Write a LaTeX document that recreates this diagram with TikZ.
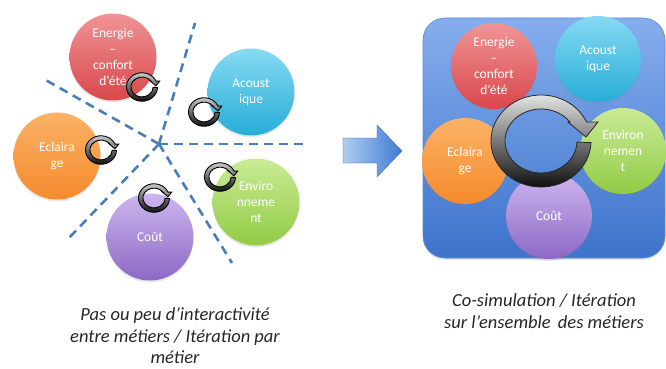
\documentclass[tikz,border=0pt]{standalone}
\usepackage{fontspec}
\setmainfont{Carlito}
\usetikzlibrary{shadows}
\definecolor{redT}{HTML}{F09496}
\definecolor{redB}{HTML}{D9474B}
\definecolor{cyanT}{HTML}{86DAF2}
\definecolor{cyanB}{HTML}{27ADD8}
\definecolor{orangeT}{HTML}{FBB266}
\definecolor{orangeB}{HTML}{F58A2D}
\definecolor{greenT}{HTML}{C9EB95}
\definecolor{greenB}{HTML}{92CB45}
\definecolor{purpleT}{HTML}{CDB6EE}
\definecolor{purpleB}{HTML}{8C68C6}
\definecolor{panelT}{HTML}{86AEEE}
\definecolor{panelB}{HTML}{3D73CB}
\definecolor{panelE}{HTML}{5C8AD6}
\definecolor{dashblue}{HTML}{4A7EBB}
\definecolor{arrL}{HTML}{AECDF2}
\definecolor{arrR}{HTML}{3F7BD0}
\newcommand\bubfont{\fontsize{13.5}{16}\selectfont}
\newcommand\capfont{\fontsize{18.5}{21.5}\selectfont\itshape}
\tikzset{
  bub/.style={circle, minimum size=87pt, inner sep=0pt, text=white, align=center, font=\bubfont,
    drop shadow={opacity=0.18, shadow xshift=0pt, shadow yshift=-2pt}},
  bubR/.style={bub, minimum size=86pt},
  ered/.style={top color=redT, bottom color=redB},
  ecyan/.style={top color=cyanT, bottom color=cyanB},
  eorange/.style={top color=orangeT, bottom color=orangeB},
  egreen/.style={top color=greenT, bottom color=greenB},
  epurple/.style={top color=purpleT, bottom color=purpleB},
  dashline/.style={draw=dashblue, line width=2.6pt, dash pattern=on 9pt off 6pt},
  bigcyc/.style={draw=black!85, line width=0.8pt, top color=black!10, middle color=black!50, bottom color=black!95},
  smallcyc/.style={draw=black, line width=0.9pt, top color=black!20, middle color=black!60, bottom color=black!95},
  captext/.style={align=center, font=\capfont, text=black!85, inner sep=0pt},
  pics/cycarrow/.style={code={
    \path[#1] (2:50 and 46) arc[start angle=2, end angle=335.6, x radius=50, y radius=46]
      -- (57,-19) -- (45,-4) -- (27,-19) -- (323.6:36 and 32)
      arc[start angle=323.6, end angle=2, x radius=36, y radius=32] -- cycle;
  }}
}
\begin{document}
\begin{tikzpicture}[x=1pt, y=-1pt]
\useasboundingbox (0,0) rectangle (666,369);
% ---------- left panel ----------
\coordinate (c) at (159,144);
\coordinate (r1) at (195,23);
\coordinate (r2) at (307,144);
\coordinate (r3) at (232,263);
\coordinate (r4) at (67,240);
\coordinate (r5) at (42,78);
\foreach \r in {r1,r2,r3,r4,r5} \draw[dashline] (c) -- (\r);

\node[bub, ered] (lEn) at (113,57) {Energie\\–\\confort\\d’été};
\node[bub, ecyan] (lAc) at (251,92) {Acoust\\ique};
\node[bub, eorange] (lEc) at (57,156) {Eclaira\\ge};
\node[bub, egreen] (lEv) at (256,202) {Enviro\\nneme\\nt};
\node[bub, epurple] (lCo) at (150,237) {Coût};

\pic[scale=0.31] (sa1) at (142,87) {cycarrow=smallcyc};
\pic[scale=0.31] (sa2) at (204,112) {cycarrow=smallcyc};
\pic[scale=0.31] (sa3) at (101,150) {cycarrow=smallcyc};
\pic[scale=0.31] (sa4) at (220,177) {cycarrow=smallcyc};
\pic[scale=0.31] (sa5) at (154,198) {cycarrow=smallcyc};

% ---------- middle arrow ----------
\path[left color=arrL, right color=arrR, draw=arrR!80!black, line width=0.3pt]
  (343,138) -- (377,138) -- (377,125) -- (402,151) -- (377,177) -- (377,163) -- (343,163) -- cycle;

% ---------- right panel ----------
\path[rounded corners=22pt, top color=panelT, bottom color=panelB, draw=panelE, line width=0.6pt,
  drop shadow={opacity=0.2, shadow xshift=0pt, shadow yshift=-2pt}]
  (423,18) rectangle (665,258);

\node[bubR, ered] (rEn) at (494,66) {Energie\\–\\confort\\d’été};
\node[bubR, ecyan] (rAc) at (598,59) {Acoust\\ique};
\node[bubR, egreen] (rEv) at (623,151) {Environ\\nemen\\t};
\node[bubR, eorange] (rEc) at (465,161) {Eclaira\\ge};
\node[bubR, epurple] (rCo) at (549,216) {Coût};

\pic (ba) at (541,141) {cycarrow=bigcyc};

% ---------- captions ----------
\node[captext] (capL) at (175,336) {Pas ou peu d’interactivité\\entre métiers / Itération par\\métier};
\node[captext] (capR) at (544,311) {Co-simulation / Itération\\sur l’ensemble\, des métiers};
\end{tikzpicture}
\end{document}
